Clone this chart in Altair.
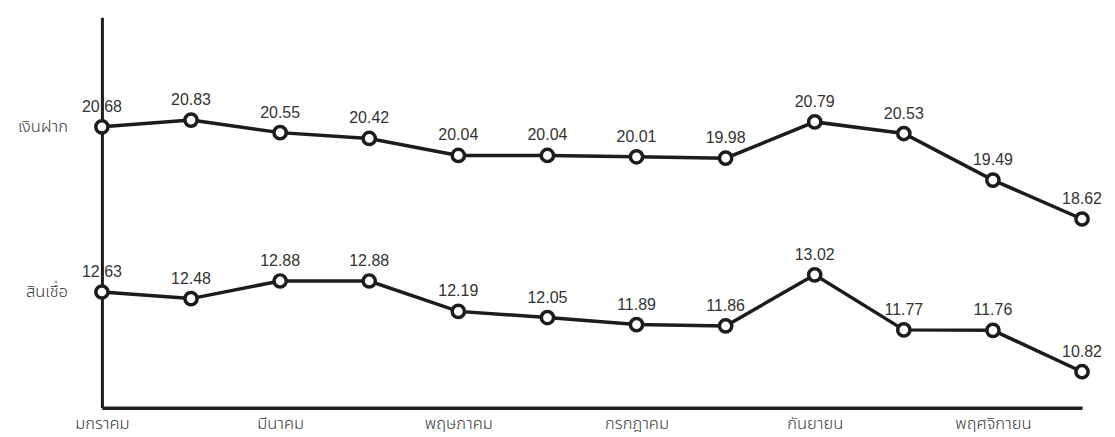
import altair as alt
import pandas as pd

months = ["มกราคม", "กุมภาพันธ์", "มีนาคม", "เมษายน", "พฤษภาคม", "มิถุนายน",
          "กรกฎาคม", "สิงหาคม", "กันยายน", "ตุลาคม", "พฤศจิกายน", "ธันวาคม"]
deposits = [20.68, 20.83, 20.55, 20.42, 20.04, 20.04, 20.01, 19.98, 20.79, 20.53, 19.49, 18.62]
loans = [12.63, 12.48, 12.88, 12.88, 12.19, 12.05, 11.89, 11.86, 13.02, 11.77, 11.76, 10.82]
series_names = ["เงินฝาก", "สินเชื่อ"]
shown_months = months[::2]

dep_df = pd.DataFrame({"month": months, "value": deposits, "series": series_names[0],
                       "label": [f"{v:.2f}" for v in deposits]})
loan_df = pd.DataFrame({"month": months, "value": loans, "series": series_names[1],
                        "label": [f"{v:.2f}" for v in loans]})

FONT = "Liberation Sans"
THAI = "Noto Sans Thai, Tahoma, Loma, Garuda, sans-serif"
INK = "#1c1c1c"

x_enc = alt.X("month:N", sort=months,
              scale=alt.Scale(type="point", padding=0),
              axis=alt.Axis(values=shown_months, title=None, ticks=False, grid=False,
                            domainColor=INK, domainWidth=3.5, labelAngle=0,
                            labelFont=THAI, labelFontSize=16.5, labelFontWeight=300,
                            labelColor="#3a3a3a", labelPadding=8))


def series_layer(df, domain, show_axis):
    y_axis = (alt.Axis(labels=False, ticks=False, grid=False, title=None,
                       domainColor=INK, domainWidth=3)
              if show_axis else None)
    y_enc = alt.Y("value:Q", scale=alt.Scale(domain=domain, zero=False, nice=False),
                  axis=y_axis)
    base = alt.Chart(df).encode(x=x_enc, y=y_enc)
    line = base.mark_line(color=INK, strokeWidth=3.5)
    pts = base.mark_point(shape="circle", filled=False, fill="white", fillOpacity=1,
                          stroke=INK, strokeWidth=3.5, size=150, opacity=1)
    txt = base.mark_text(dy=-20, font=FONT, fontSize=16, color="#333").encode(text="label:N")
    name = base.transform_filter(alt.datum.month == months[0]).mark_text(
        align="right", dx=-34, font=THAI, fontSize=16.5, fontWeight=300, color="#3a3a3a"
    ).encode(text="series:N")
    return alt.layer(line, pts, txt, name)


dep_layer = series_layer(dep_df, [14.40, 23.13], True)
loan_layer = series_layer(loan_df, [10.0, 18.87], False)

chart = alt.layer(dep_layer, loan_layer).resolve_scale(y="independent").properties(
    width=981, height=391,
    autosize=alt.AutoSizeParams(type="none"),
    padding={"left": 94, "top": 9, "right": 25, "bottom": 28},
    background="white",
).configure_view(stroke=None)

chart.save("out.html", embed_options={"renderer": "svg", "actions": False})
